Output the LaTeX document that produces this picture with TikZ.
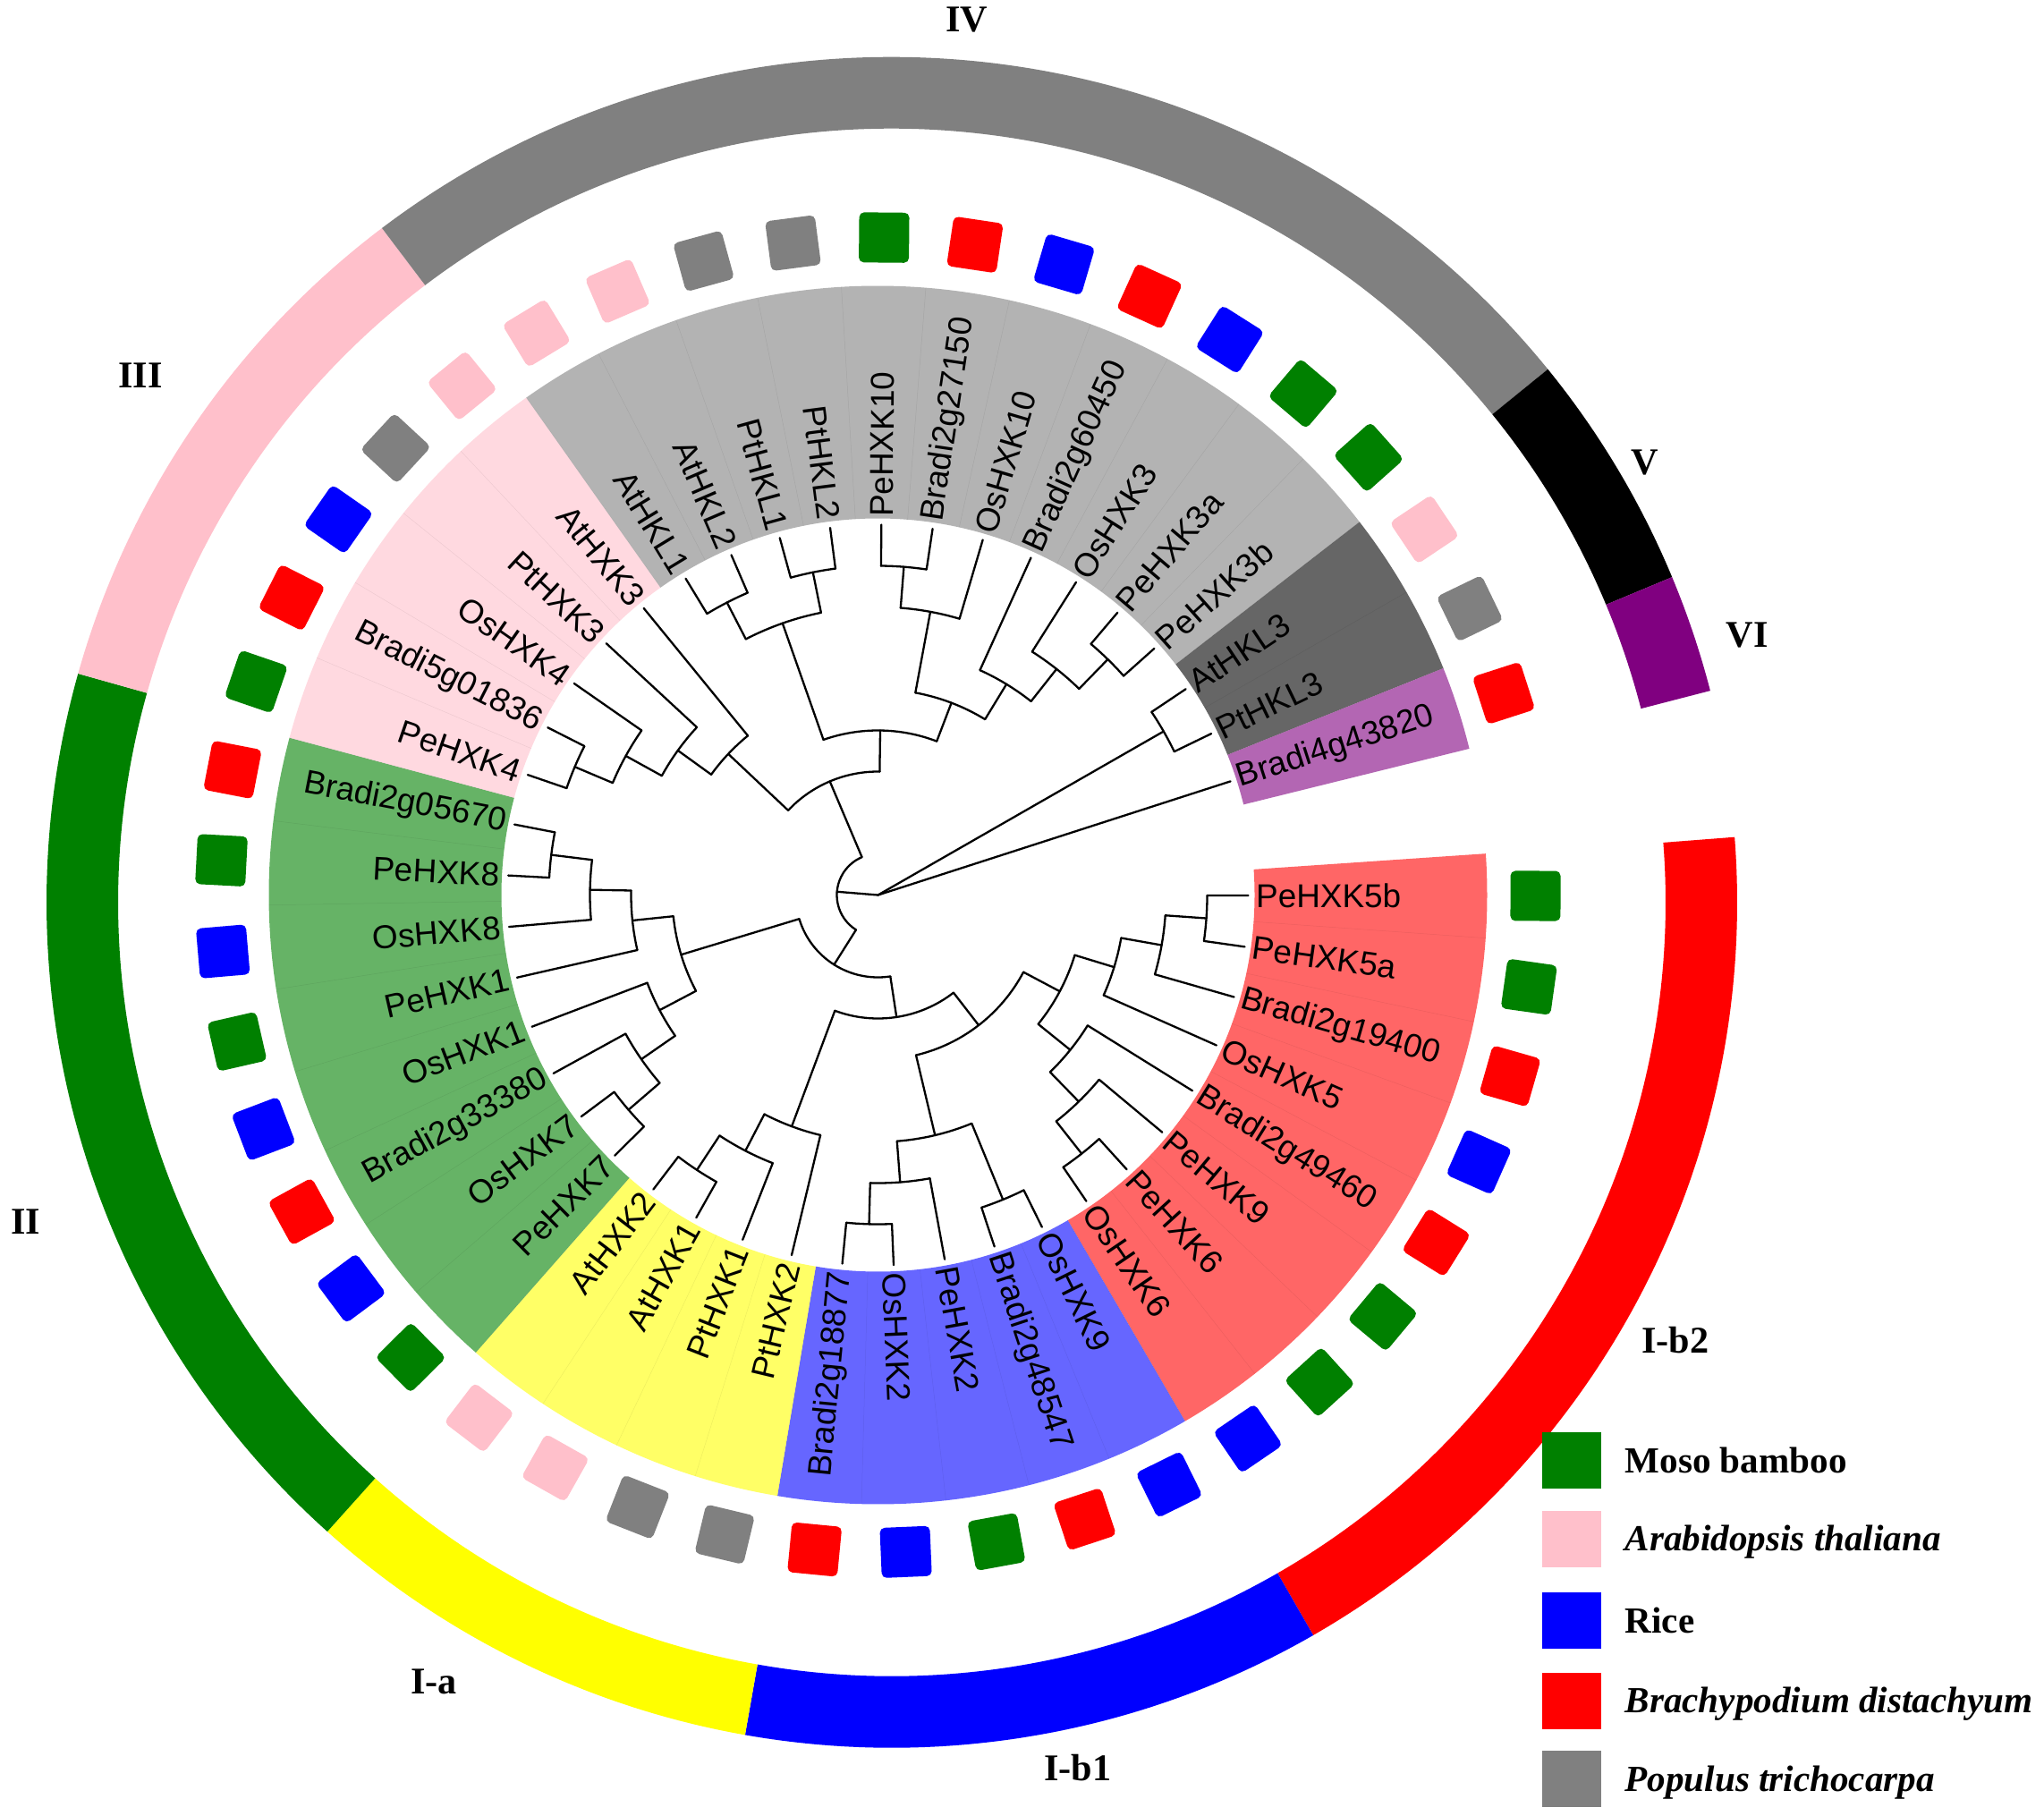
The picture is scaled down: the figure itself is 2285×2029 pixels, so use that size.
\documentclass[tikz,border=0pt]{standalone}
\usepackage{fontspec}
\setmainfont{Liberation Serif}
\newfontfamily\arialf{Liberation Sans}
\definecolor{cR}{RGB}{255,0,0}
\definecolor{cB}{RGB}{0,0,255}
\definecolor{cY}{RGB}{255,255,0}
\definecolor{cG}{RGB}{0,128,0}
\definecolor{cP}{RGB}{255,192,203}
\definecolor{cGr}{RGB}{128,128,128}
\definecolor{cK}{RGB}{0,0,0}
\definecolor{cV}{RGB}{128,0,128}
\definecolor{sR}{RGB}{255,102,102}
\definecolor{sB}{RGB}{102,102,255}
\definecolor{sY}{RGB}{255,255,102}
\definecolor{sG}{RGB}{102,179,102}
\definecolor{sP}{RGB}{255,217,224}
\definecolor{sGr}{RGB}{179,179,179}
\definecolor{sK}{RGB}{102,102,102}
\definecolor{sV}{RGB}{179,102,179}
% radial branch: parent radius, child fractional index, child radius
\newcommand\tradl[3]{%
  \pgfmathsetmacro\tht{-0.077-7.9545*(#2)}%
  \draw[tl] (\tht:#1) -- (\tht:#3);}
% arc of an inner node: radius, first child index, last child index
\newcommand\tarc[3]{%
  \pgfmathsetmacro\ta{-0.077-7.9545*(#2)}%
  \pgfmathsetmacro\tb{-0.077-7.9545*(#3)}%
  \pgfmathsetmacro\rr{(#1)/10}%
  \draw[tl] (\ta:#1) arc[start angle=\ta, end angle=\tb, radius=\rr mm];}
\newcommand\cherry[2]{\tarc{368}{#1}{#2}\tradl{368}{#1}{414}\tradl{368}{#2}{414}}
% annular sector: r1 r2 a1 a2 style
\newcommand\annul[5]{%
  \pgfmathsetmacro\aA{#3}\pgfmathsetmacro\aB{#4}%
  \pgfmathsetmacro\rA{(#1)/10}\pgfmathsetmacro\rB{(#2)/10}%
  \fill[#5] (\aA:#1) arc[start angle=\aA, end angle=\aB, radius=\rA mm]
    -- (\aB:#2) arc[start angle=\aB, end angle=\aA, radius=\rB mm] -- cycle;}
\newcommand\cladebg[3]{\annul{421}{681}{3.9-7.9545*(#1)}{3.9-7.9545*(#2+1)}{fill=#3}}
\begin{document}
\begin{tikzpicture}[x=0.1mm,y=0.1mm,
  tl/.style={line width=0.23mm, line cap=round, black},
  lab/.style={font=\arialf\fontsize{10.5}{12}\selectfont, inner sep=0pt},
  sq/.style={minimum size=5.6mm, inner sep=0pt, rounded corners=0.55mm, draw=none},
  lsq/.style={minimum width=6.6mm, minimum height=6.3mm, inner sep=0pt, draw=none},
  rl/.style={font=\bfseries\fontsize{12}{14}\selectfont, inner sep=0pt},
  lg/.style={font=\bfseries\fontsize{11.7}{13}\selectfont, inner sep=0pt, anchor=base west},
  sepl/.style={line width=0.05mm, black, opacity=0.07}]
\useasboundingbox (0,0) rectangle (2285,2029);
\fill[white] (0,0) rectangle (2285,2029);
% ---------------- outer ring ----------------
\begin{scope}[shift={(997,1020.3)}]
\annul{865}{945}{299.9}{364.43}{fill=cR}
\annul{865}{945}{260}{299.9}{fill=cB}
\annul{865}{945}{228.1}{260}{fill=cY}
\annul{865}{945}{164.3}{228.1}{fill=cG}
\annul{865}{945}{127.1}{164.3}{fill=cP}
\annul{865}{945}{39.1}{127.1}{fill=cGr}
\annul{865}{945}{22.63}{39.1}{fill=cK}
\annul{865}{945}{14.5}{22.63}{fill=cV}
\end{scope}
% ---------------- tree ----------------
\begin{scope}[shift={(981.5,1028.5)}]
\cladebg{0}{7}{sR}
\cladebg{8}{12}{sB}
\cladebg{13}{16}{sY}
\cladebg{17}{24}{sG}
\cladebg{25}{29}{sP}
\cladebg{30}{40}{sGr}
\cladebg{41}{42}{sK}
\cladebg{43}{43}{sV}
\foreach \k in {1,...,43}{%
  \pgfmathsetmacro\aS{3.9-7.9545*\k}%
  \draw[sepl] (\aS:421) -- (\aS:681);}
% root
\tradl{0}{23.203125}{46}
\tradl{0}{41.5}{368}
\tradl{0}{43}{414}
% N1
\tarc{46}{15.359375}{31.046875}
\tradl{46}{15.359375}{92}
\tradl{46}{31.046875}{138}
% lower clade
\tarc{92}{10.21875}{20.5}
\tradl{92}{10.21875}{138}
\tradl{92}{20.5}{230}
% clade I
\tarc{138}{6.5625}{13.875}
\tradl{138}{6.5625}{184}
\tradl{138}{13.875}{276}
\tarc{184}{3.5}{9.625}
\tradl{184}{3.5}{230}
\tradl{184}{9.625}{276}
\tarc{230}{2.125}{4.875}
\tradl{230}{2.125}{276}
\tradl{230}{4.875}{276}
\tarc{276}{1.25}{3}
\tradl{276}{1.25}{322}
\tradl{276}{3}{414}
\tarc{322}{0.5}{2}
\tradl{322}{0.5}{368}
\tradl{322}{2}{414}
\cherry{0}{1}
\tarc{276}{4}{5.75}
\tradl{276}{4}{414}
\tradl{276}{5.75}{322}
\tarc{322}{5}{6.5}
\tradl{322}{5}{414}
\tradl{322}{6.5}{368}
\cherry{6}{7}
\tarc{276}{8.5}{10.75}
\tradl{276}{8.5}{368}
\tradl{276}{10.75}{322}
\cherry{8}{9}
\tarc{322}{10}{11.5}
\tradl{322}{10}{414}
\tradl{322}{11.5}{368}
\cherry{11}{12}
\tarc{276}{13}{14.75}
\tradl{276}{13}{414}
\tradl{276}{14.75}{322}
\tarc{322}{14}{15.5}
\tradl{322}{14}{414}
\tradl{322}{15.5}{368}
\cherry{15}{16}
% clade II
\tarc{230}{19.125}{21.875}
\tradl{230}{19.125}{276}
\tradl{230}{21.875}{276}
\tarc{276}{18.25}{20}
\tradl{276}{18.25}{322}
\tradl{276}{20}{414}
\tarc{322}{17.5}{19}
\tradl{322}{17.5}{368}
\tradl{322}{19}{414}
\cherry{17}{18}
\tarc{276}{21}{22.75}
\tradl{276}{21}{414}
\tradl{276}{22.75}{322}
\tarc{322}{22}{23.5}
\tradl{322}{22}{414}
\tradl{322}{23.5}{368}
\cherry{23}{24}
% clades III + IV
\tarc{138}{28.0625}{34.03125}
\tradl{138}{28.0625}{230}
\tradl{138}{34.03125}{184}
\tarc{230}{27.125}{29}
\tradl{230}{27.125}{276}
\tradl{230}{29}{414}
\tarc{276}{26.25}{28}
\tradl{276}{26.25}{322}
\tradl{276}{28}{414}
\tarc{322}{25.5}{27}
\tradl{322}{25.5}{368}
\tradl{322}{27}{414}
\cherry{25}{26}
\tarc{184}{31.5}{36.5625}
\tradl{184}{31.5}{322}
\tradl{184}{36.5625}{230}
\tarc{322}{30.5}{32.5}
\tradl{322}{30.5}{368}
\tradl{322}{32.5}{368}
\cherry{30}{31}
\cherry{32}{33}
\tarc{230}{35.25}{37.875}
\tradl{230}{35.25}{322}
\tradl{230}{37.875}{276}
\tarc{322}{34.5}{36}
\tradl{322}{34.5}{368}
\tradl{322}{36}{414}
\cherry{34}{35}
\tarc{276}{37}{38.75}
\tradl{276}{37}{414}
\tradl{276}{38.75}{322}
\tarc{322}{38}{39.5}
\tradl{322}{38}{414}
\tradl{322}{39.5}{368}
\cherry{39}{40}
% V
\cherry{41}{42}
% leaf labels and species squares
\foreach \i/\nm/\col in {0/PeHXK5b/cG, 1/PeHXK5a/cG, 2/Bradi2g19400/cR, 3/OsHXK5/cB,
  4/Bradi2g49460/cR, 5/PeHXK9/cG, 6/PeHXK6/cG, 7/OsHXK6/cB, 8/OsHXK9/cB,
  9/Bradi2g48547/cR, 10/PeHXK2/cG, 11/OsHXK2/cB, 12/Bradi2g18877/cR,
  13/PtHXK2/cGr, 14/PtHXK1/cGr, 15/AtHXK1/cP, 16/AtHXK2/cP, 17/PeHXK7/cG,
  18/OsHXK7/cB, 19/Bradi2g33380/cR, 20/OsHXK1/cB, 21/PeHXK1/cG, 22/OsHXK8/cB,
  23/PeHXK8/cG, 24/Bradi2g05670/cR, 25/PeHXK4/cG, 26/Bradi5g01836/cR,
  27/OsHXK4/cB, 28/PtHXK3/cGr, 29/AtHXK3/cP, 30/AtHKL1/cP, 31/AtHKL2/cP,
  32/PtHKL1/cGr, 33/PtHKL2/cGr, 34/PeHXK10/cG, 35/Bradi2g27150/cR,
  36/OsHXK10/cB, 37/Bradi2g60450/cR, 38/OsHXK3/cB, 39/PeHXK3a/cG,
  40/PeHXK3b/cG, 41/AtHKL3/cP, 42/PtHKL3/cGr, 43/Bradi4g43820/cR}{%
  \pgfmathsetmacro\tht{-0.077-7.9545*\i}%
  \ifnum\i>11 \ifnum\i<34
      \node[lab, anchor=east, rotate=\tht+180] (l\i) at (\tht:423) {\nm};
    \else
      \node[lab, anchor=west, rotate=\tht] (l\i) at (\tht:422) {\nm};
    \fi
  \else
    \node[lab, anchor=west, rotate=\tht] (l\i) at (\tht:422) {\nm};
  \fi
  \node[sq, fill=\col, rotate=\tht] (s\i) at (\tht:735) {};
}
\end{scope}
% ---------------- clade names ----------------
\node[rl] (nIV) at (1081,2007) {IV};
\node[rl] (nIII) at (157,1609) {III};
\node[rl] (nV) at (1839,1512) {V};
\node[rl] (nVI) at (1953,1319) {VI};
\node[rl] (nII) at (29,663) {II};
\node[rl] (nIa) at (485,149) {I-a};
\node[rl] (nIb1) at (1205,53) {I-b1};
\node[rl] (nIb2) at (1873,531) {I-b2};
% ---------------- legend ----------------
\node[lsq, fill=cG] (k1) at (1757,396.7) {};
\node[lsq, fill=cP] (k2) at (1757,309) {};
\node[lsq, fill=cB] (k3) at (1757,217.3) {};
\node[lsq, fill=cR] (k4) at (1757,128) {};
\node[lsq, fill=cGr] (k5) at (1757,40.7) {};
\node[lg] (t1) at (1816,383) {Moso bamboo};
\node[lg] (t2) at (1816,295.3) {\itshape Arabidopsis thaliana};
\node[lg] (t3) at (1816,203.6) {Rice};
\node[lg] (t4) at (1816,114.3) {\itshape Brachypodium distachyum};
\node[lg] (t5) at (1816,27) {\itshape Populus trichocarpa};
\end{tikzpicture}
\end{document}
